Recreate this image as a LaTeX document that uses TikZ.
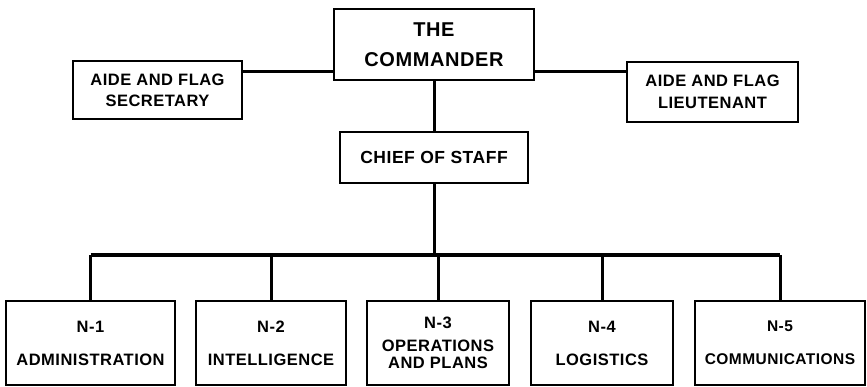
\documentclass[tikz,border=0pt]{standalone}
\usepackage{fontspec}
\setmainfont{Liberation Sans}[LetterSpace=3.0]
\begin{document}
\begin{tikzpicture}[x=1pt,y=-1pt,
  box/.style={draw,line width=1.6pt,inner sep=0pt,align=center,font=\bfseries},
  link/.style={line width=3pt},
  bus/.style={line width=4.5pt}]
\useasboundingbox (0,0) rectangle (867,386);
\node[box,minimum width=200,minimum height=71,font=\fontsize{20}{23}\bfseries] (cmd) at (434,44.5) {THE\\[7pt]COMMANDER};
\node[box,minimum width=169,minimum height=58,font=\fontsize{16.5}{19}\bfseries] (sec) at (157.5,90) {AIDE AND FLAG\\[2pt]SECRETARY};
\node[box,minimum width=171,minimum height=60,font=\fontsize{16.5}{19}\bfseries] (lt) at (712.5,92) {AIDE AND FLAG\\[3pt]LIEUTENANT};
\node[box,minimum width=188,minimum height=51,font=\fontsize{17.5}{20}\bfseries] (chief) at (434,157.5) {CHIEF OF STAFF};
\node[box,minimum width=169,minimum height=84,font=\fontsize{16.5}{18}\bfseries] (n1) at (90.5,343) {N-1\\[15pt]ADMINISTRATION};
\node[box,minimum width=150,minimum height=84,font=\fontsize{16.5}{18}\bfseries] (n2) at (271,343) {N-2\\[15pt]INTELLIGENCE};
\node[box,minimum width=142,minimum height=84,font=\fontsize{16.5}{17}\bfseries] (n3) at (438,343) {N-3\\[6pt]OPERATIONS\\AND PLANS};
\node[box,minimum width=142,minimum height=84,font=\fontsize{16.5}{18}\bfseries] (n4) at (602,343) {N-4\\[15pt]LOGISTICS};
\node[box,minimum width=170,minimum height=84,font=\fontsize{15.5}{18}\bfseries] (n5) at (780,343) {N-5\\[15pt]COMMUNICATIONS};
\coordinate (aide) at (0,71);
\coordinate (split) at (0,255);
\draw[link] (cmd.west |- aide) -- (sec.east |- aide);
\draw[link] (cmd.east |- aide) -- (lt.west |- aide);
\draw[link] (cmd.south) -- (chief.north);
\draw[link] (chief.south) -- (chief |- split);
\draw[bus] (n1 |- split) -- (n5 |- split);
\foreach \n in {n1,n2,n3,n4,n5}
  \draw[link] (\n |- split) -- (\n.north);
\end{tikzpicture}
\end{document}
